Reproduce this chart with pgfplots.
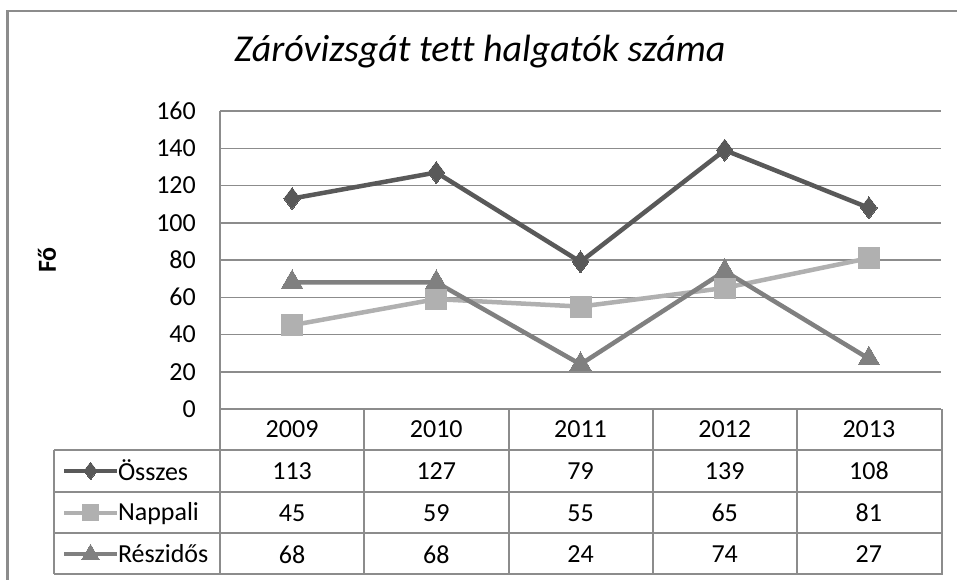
\documentclass[border=0pt]{standalone}
\usepackage{fontspec}
\setmainfont[Ligatures=NoCommon]{Carlito}
\usepackage{pgfplots}
\usepackage{pgfplotstable}
\pgfplotsset{compat=1.18}
\definecolor{cA}{HTML}{595959}
\definecolor{cB}{HTML}{B0B0B0}
\definecolor{cC}{HTML}{808080}
\definecolor{gridc}{HTML}{8C8C8C}
\pgfplotstableread{
x year osszes nappali reszidos
0 2009 113 45 68
1 2010 127 59 68
2 2011 79 55 24
3 2012 139 65 74
4 2013 108 81 27
}\data
\newcommand{\fs}{\fontsize{26}{30}\selectfont}
\begin{document}
\begin{tikzpicture}
\useasboundingbox (0pt,0pt) rectangle (957pt,-579pt);
\begin{axis}[
  scale only axis, width=721pt, height=298pt,
  at={(220pt,-409pt)}, anchor=south west,
  xmin=-0.5, xmax=4.5, ymin=0, ymax=160,
  ytick={0,20,...,160}, xtick=\empty,
  axis x line=none, axis y line*=left,
  y axis line style={gridc, line width=1.5pt, -},
  major tick length=0pt,
  ymajorgrids, grid style={gridc, line width=1.5pt},
  /pgf/number format/assume math mode=true,
  yticklabel style={font=\fs, anchor=east, inner sep=0pt, xshift=-24pt},
  ylabel={\textbf{Fő}},
  ylabel style={at={(axis description cs:-0.24,0.5)}, anchor=center, font=\fs},
  title={Záróvizsgát tett halgatók száma},
  title style={at={(axis description cs:0.3606,1.178)}, anchor=center, font=\itshape\fontsize{38}{43}\selectfont},
  clip=false,
  line join=round,
  legend style={at={(axis description cs:-0.2191,-0.1376)}, anchor=north west,
    draw=none, fill=none, inner sep=0pt, outer sep=0pt,
    nodes={inner sep=0pt, anchor=west, minimum height=41.7pt, font=\fs},
    column sep=-1pt, row sep=0pt},
  legend cell align=left,
  legend image code/.code={\draw[mark repeat=2,mark phase=2,#1, line width=4pt, every mark/.append style={scale=0.8}] plot coordinates {(0pt,0pt) (26.5pt,0pt) (53pt,0pt)};},
]
\addplot[cA, line width=4.5pt, mark=diamond*, mark size=11pt, mark options={line width=0pt}] table[x=x,y=osszes]{\data};
\addlegendentry{Összes}
\addplot[cB, line width=4.5pt, mark=square*, mark size=10.5pt, mark options={line width=0pt}] table[x=x,y=nappali]{\data};
\addlegendentry{Nappali}
\addplot[cC, line width=4.5pt, mark=triangle*, mark size=12.5pt, mark options={line width=0pt}] table[x=x,y=reszidos]{\data};
\addlegendentry{Részidős}
% table text
\addplot[forget plot, draw=none, mark=none, nodes near coords, point meta=explicit symbolic,
  nodes near coords style={anchor=center, font=\fs, inner sep=0pt}] table[x=x, y expr=-11, meta=year]{\data};
\addplot[forget plot, draw=none, mark=none, nodes near coords, point meta=explicit symbolic,
  nodes near coords style={anchor=center, font=\fs, inner sep=0pt}] table[x=x, y expr=-33.3, meta=osszes]{\data};
\addplot[forget plot, draw=none, mark=none, nodes near coords, point meta=explicit symbolic,
  nodes near coords style={anchor=center, font=\fs, inner sep=0pt}] table[x=x, y expr=-55.8, meta=nappali]{\data};
\addplot[forget plot, draw=none, mark=none, nodes near coords, point meta=explicit symbolic,
  nodes near coords style={anchor=center, font=\fs, inner sep=0pt}] table[x=x, y expr=-78.1, meta=reszidos]{\data};
\end{axis}
% table grid
\begin{scope}[gridc, line width=1.5pt]
\draw (220pt,-409pt) -- (941pt,-409pt);
\foreach \yy in {450,492,533,574} \draw (54pt,-\yy pt) -- (942pt,-\yy pt);
\foreach \xx in {220,364,509,653,797} \draw (\xx pt,-409pt) -- (\xx pt,-574pt);
\draw[line width=2.5pt] (942pt,-409pt) -- (942pt,-575pt);
\draw (54pt,-450pt) -- (54pt,-574pt);
\end{scope}
\draw[gridc, line width=2.5pt] (7.5pt,-600pt) -- (7.5pt,-11pt) -- (970pt,-11pt);
\end{tikzpicture}
\end{document}
